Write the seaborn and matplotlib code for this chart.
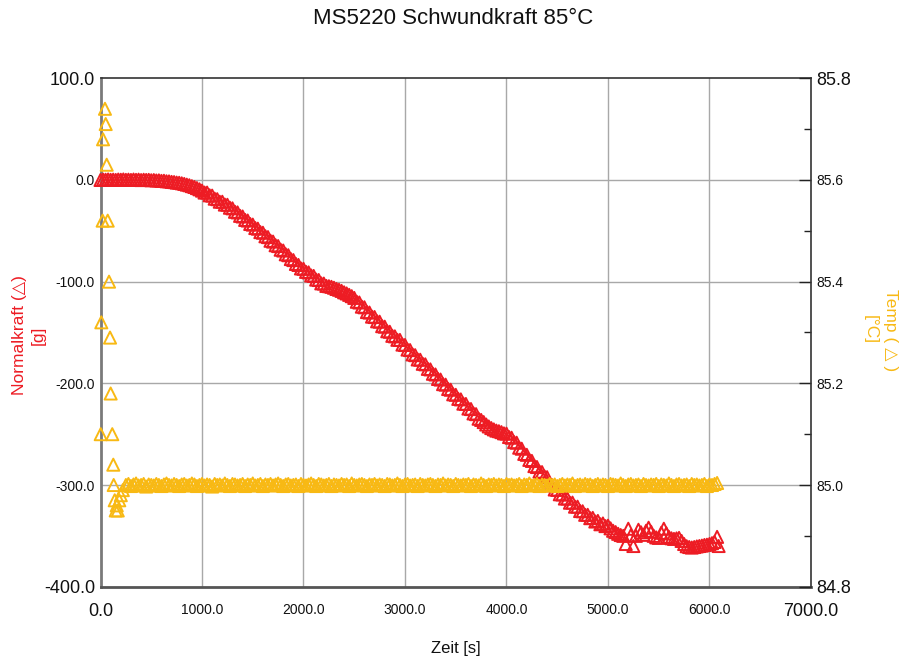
import matplotlib
matplotlib.use("Agg")
import matplotlib.pyplot as plt
from matplotlib.ticker import MultipleLocator
import seaborn as sns
import pandas as pd

# Normal force [g], sampled every 25 s, last sample at 6090 s
time_force = list(range(0, 6100, 25)) + [6090]
force = [
    0.0, 0.4, 0.2, 0.5, 0.1, 0.3, 0.0, 0.4, 0.2, 0.5,
    0.1, 0.3, 0.0, 0.4, 0.1, 0.3, -0.1, 0.2, 0.0, 0.1,
    -0.3, -0.1, -0.5, -0.4, -0.9, -0.8, -1.3, -1.4, -1.9, -2.1,
    -2.6, -2.8, -3.3, -3.9, -4.6, -5.2, -6.1, -6.9, -8.0, -9.2,
    -10.5, -12.4, -12.4, -15.1, -15.4, -18.4, -18.9, -21.4, -21.4, -24.2,
    -24.4, -27.3, -27.9, -31.3, -31.9, -35.3, -35.9, -39.3, -39.9, -43.3,
    -43.9, -47.3, -47.9, -51.3, -51.9, -55.4, -56.2, -59.8, -60.6, -64.2,
    -65.0, -68.6, -69.4, -73.1, -74.0, -77.8, -78.8, -82.6, -83.6, -87.0,
    -87.4, -90.4, -90.9, -93.9, -94.4, -98.0, -98.4, -101.7, -101.9, -104.2,
    -104.5, -105.1, -106.0, -107.2, -108.0, -109.1, -110.5, -111.6, -113.0, -114.3,
    -116.0, -119.8, -120.5, -124.6, -125.2, -129.9, -130.4, -134.4, -134.8, -139.0,
    -139.4, -143.8, -144.3, -148.8, -149.3, -153.3, -153.8, -157.2, -157.3, -161.9,
    -162.3, -166.8, -167.3, -171.6, -172.3, -176.5, -176.8, -180.8, -181.3, -185.8,
    -186.3, -190.6, -191.3, -195.7, -196.3, -200.8, -201.3, -205.6, -206.3, -210.8,
    -211.3, -215.3, -215.8, -220.0, -220.3, -224.8, -225.3, -229.6, -230.3, -234.8,
    -236.0, -238.1, -240.5, -242.4, -244.0, -245.3, -246.5, -247.1, -248.0, -249.2,
    -249.5, -252.8, -253.5, -257.8, -258.4, -263.3, -264.3, -269.4, -270.3, -275.3,
    -276.3, -281.4, -282.3, -286.8, -287.3, -291.6, -292.3, -298.5, -300.3, -304.4,
    -304.8, -309.1, -309.3, -313.3, -313.3, -317.4, -317.3, -321.3, -321.3, -325.6,
    -325.8, -329.3, -329.3, -332.6, -332.3, -335.9, -335.3, -338.6, -337.8, -340.4,
    -340.0, -342.6, -345.0, -346.3, -348.0, -349.2, -350.0, -358.0, -343.0, -349.5,
    -360.0, -350.0, -344.0, -346.5, -349.0, -345.0, -342.0, -346.0, -350.0, -351.5,
    -352.0, -347.0, -343.0, -347.5, -351.0, -352.4, -353.0, -352.5, -352.0, -355.0,
    -358.0, -360.2, -361.0, -361.5, -361.0, -360.4, -360.0, -359.6, -359.0, -358.7,
    -358.0, -357.2, -356.0, -351.0,
    -360.0,
]

# Chamber temperature [°C]: settling phase, then every 25 s from 250 s
time_temp_start = [2, 8, 21, 25, 44, 51, 61, 71, 84, 94, 100, 116, 126, 130, 140,
                   150, 160, 170, 185, 200, 220]
temp_start = [85.10, 85.32, 85.52, 85.68, 85.74, 85.71, 85.63, 85.52, 85.40, 85.29,
              85.18, 85.10, 85.04, 85.00, 84.97, 84.95, 84.96, 84.95, 84.97, 84.98,
              84.99]
time_temp_steady = list(range(250, 6100, 25))
temp_steady = [
    85.000, 85.002, 84.998, 85.001, 85.003, 84.999, 85.000, 85.002, 84.997, 85.001, 85.000, 84.999,
    85.002, 85.000, 84.998, 85.001, 85.003, 85.000, 84.999, 85.002, 85.000, 84.998, 85.001, 85.002,
    84.999, 85.000, 85.003, 85.001, 84.998, 85.000, 85.002, 84.999, 85.001, 85.000, 84.997, 85.002,
    85.000, 85.001, 84.999, 85.003, 85.000, 84.998, 85.002, 85.001, 84.999, 85.000, 85.002, 84.998,
    85.001, 85.000, 85.003, 84.999, 85.000, 85.002, 84.998, 85.001, 85.000, 85.002, 84.999, 85.001,
    85.003, 85.000, 84.998, 85.001, 85.002, 84.999, 85.000, 85.001, 84.998, 85.002, 85.000, 84.999,
    85.001, 85.003, 85.000, 84.998, 85.002, 85.001, 84.999, 85.000, 85.002, 84.998, 85.001, 85.000,
    84.999, 85.002, 85.000, 85.001, 84.998, 85.003, 85.000, 84.999, 85.001, 85.002, 85.000, 84.998,
    85.001, 85.000, 85.002, 84.999, 85.001, 85.000, 84.998, 85.002, 85.001, 84.999, 85.000, 85.003,
    85.000, 84.998, 85.001, 85.002, 84.999, 85.000, 85.001, 84.998, 85.002, 85.000, 84.999, 85.001,
    85.002, 85.000, 84.998, 85.001, 85.000, 85.003, 84.999, 85.001, 85.000, 84.998, 85.002, 85.000,
    84.999, 85.001, 85.000, 85.002, 84.998, 85.001, 85.000, 84.999, 85.003, 85.000, 84.998, 85.001,
    85.000, 85.002, 84.999, 85.001, 85.000, 84.998, 85.002, 85.000, 85.001, 84.999, 85.000, 85.002,
    84.998, 85.001, 85.000, 85.003, 84.999, 85.000, 85.002, 84.998, 85.001, 85.000, 84.999, 85.002,
    85.000, 85.001, 84.998, 85.000, 85.002, 84.999, 85.001, 85.000, 85.003, 84.998, 85.000, 85.001,
    84.999, 85.002, 85.000, 85.001, 84.998, 85.000, 85.002, 84.999, 85.001, 85.000, 84.998, 85.002,
    85.001, 85.000, 84.999, 85.003, 85.000, 84.998, 85.001, 85.002, 84.999, 85.000, 85.001, 84.998,
    85.002, 85.000, 84.999, 85.001, 85.000, 85.002, 84.998, 85.001, 85.000, 84.999, 85.003, 85.000,
    84.998, 85.001, 85.002, 84.999, 85.000, 85.001, 84.998, 85.002, 85.000, 85.001, 84.999, 85.000,
    85.002, 84.998, 85.001, 85.000, 85.002, 85.004,
]

x_ticks = [0, 1000, 2000, 3000, 4000, 5000, 6000, 7000]
x_labels = ["0.0", "1000.0", "2000.0", "3000.0", "4000.0", "5000.0", "6000.0", "7000.0"]
force_ticks = [-400, -300, -200, -100, 0, 100]
force_labels = ["-400.0", "-300.0", "-200.0", "-100.0", "0.0", "100.0"]
temp_ticks = [84.8, 85.0, 85.2, 85.4, 85.6, 85.8]
temp_labels = ["84.8", "85.0", "85.2", "85.4", "85.6", "85.8"]

RED = "#ED1C24"
YELLOW = "#F8B914"
FONT = ["Liberation Sans", "DejaVu Sans"]

sns.set_theme(style="white")
plt.rcParams["font.family"] = FONT

df_force = pd.DataFrame({"t": time_force, "F": force})
df_temp = pd.DataFrame({"t": time_temp_start + time_temp_steady,
                        "T": temp_start + temp_steady})

fig = plt.figure(figsize=(9.03, 6.59), dpi=100)
ax = fig.add_axes([0.1113, 0.1097, 0.7868, 0.7715])
ax2 = ax.twinx()


def open_triangles(data, x, y, axes, colour):
    sns.scatterplot(data=data, x=x, y=y, ax=axes, marker="^", s=76,
                    color=colour, legend=False, zorder=3)
    coll = axes.collections[-1]
    coll.set_facecolor("none")
    coll.set_edgecolor(colour)
    coll.set_linewidth(1.4)
    coll.set_clip_on(False)


open_triangles(df_force, "t", "F", ax, RED)
open_triangles(df_temp, "t", "T", ax2, YELLOW)

ax.set_xlim(0, 7000)
ax.set_ylim(-400, 100)
ax2.set_ylim(84.8, 85.8)

# grid on the force axes, beneath the markers
ax.set_axisbelow(True)
for xv in x_ticks[1:-1]:
    ax.axvline(xv, color="#a8a8a8", lw=1.0, zorder=0)
for yv in force_ticks[1:-1]:
    ax.axhline(yv, color="#a8a8a8", lw=1.0, zorder=0)

# x axis
ax.set_xticks(x_ticks)
ax.set_xticklabels(x_labels)
ax.tick_params(axis="x", length=0, pad=12, colors="#111111")
for i, lab in enumerate(ax.get_xticklabels()):
    lab.set_fontsize(13 if i in (0, len(x_ticks) - 1) else 10)
ax.set_xlabel("Zeit [s]", fontsize=12, labelpad=15, color="#111111")

# left axis
ax.set_yticks(force_ticks)
ax.set_yticklabels(force_labels)
ax.tick_params(axis="y", length=0, pad=4, colors="#111111")
for i, lab in enumerate(ax.get_yticklabels()):
    lab.set_fontsize(13 if i in (0, len(force_ticks) - 1) else 10)
ax.set_ylabel("")

# right axis
ax2.set_yticks(temp_ticks)
ax2.set_yticklabels(temp_labels)
ax2.yaxis.set_minor_locator(MultipleLocator(0.1))
ax2.tick_params(axis="y", which="major", direction="in", length=9, width=1.0,
                color="#222222", pad=4, labelcolor="#111111")
ax2.tick_params(axis="y", which="minor", direction="in", length=5, width=1.0,
                color="#222222")
for i, lab in enumerate(ax2.get_yticklabels()):
    lab.set_fontsize(13 if i in (0, len(temp_ticks) - 1) else 10)
ax2.set_ylabel("")

# spines
for s in ("left", "top", "bottom"):
    ax2.spines[s].set_visible(False)
ax.spines["right"].set_visible(False)
ax.spines["left"].set_color("#7a7a7a")
ax.spines["left"].set_linewidth(2.0)
ax.spines["bottom"].set_color("#555555")
ax.spines["bottom"].set_linewidth(2.0)
ax.spines["top"].set_color("#333333")
ax.spines["top"].set_linewidth(1.2)
ax2.spines["right"].set_color("#333333")
ax2.spines["right"].set_linewidth(1.2)

# axis titles
fig.text(29 / 903, 1 - 335 / 659, "Normalkraft (\u25b3)\n[g]", rotation=90,
         ha="center", va="center", color=RED, fontsize=12.5, multialignment="center",
         linespacing=1.3)
fig.text(880 / 903, 1 - 330 / 659, "Temp ( \u25b3 )\n[°C]", rotation=270,
         ha="center", va="center", color=YELLOW, fontsize=12.5, multialignment="center",
         linespacing=1.45)

fig.suptitle("MS5220 Schwundkraft 85°C", x=453 / 903, y=1 - 18 / 659, va="center",
             fontsize=16, color="#111111")

fig.savefig("out.png", dpi=100)
